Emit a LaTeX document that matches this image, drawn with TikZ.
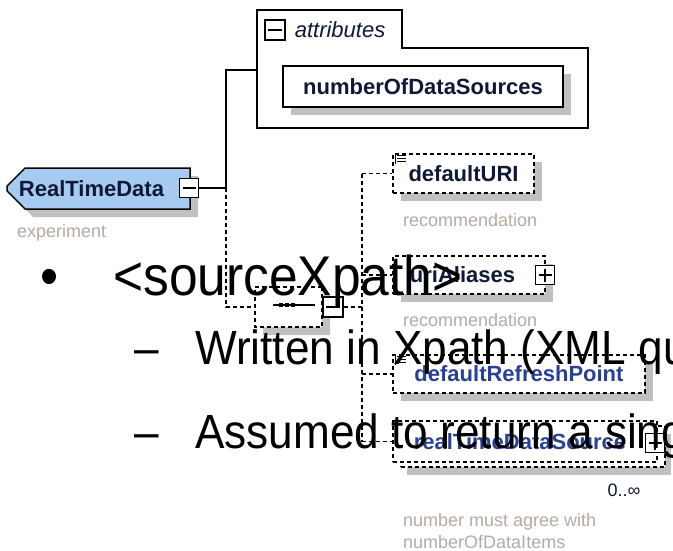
\documentclass[tikz,border=0pt]{standalone}
\usepackage{fontspec}
\setmainfont{Liberation Sans}
\newfontfamily\slidefont[FakeStretch=0.92]{Liberation Sans}
\usepackage{tikz}
\usetikzlibrary{shapes.misc,shadows,positioning}
\definecolor{boxblue}{RGB}{166,202,240}
\definecolor{shadowgray}{RGB}{192,192,192}
\definecolor{inktext}{RGB}{16,24,56}
\definecolor{notegray}{RGB}{182,170,162}
\definecolor{faintblue}{RGB}{40,64,150}
\tikzset{
  elem/.style={draw, line width=1.5pt, fill=white, inner sep=0pt,
    font=\fontsize{22}{26}\selectfont\bfseries, text=inktext},
  optelem/.style={elem, dash pattern=on 4pt off 3pt},
  shade/.style={general shadow={fill=shadowgray, shadow xshift=8pt, shadow yshift=-8pt}},
  expander/.style={draw, line width=1.2pt, fill=white, minimum size=19pt, inner sep=0pt},
  minusbox/.style={expander, path picture={
    \draw[line width=1.2pt] ([xshift=3pt]path picture bounding box.west) -- ([xshift=-3pt]path picture bounding box.east);}},
  plusbox/.style={expander, path picture={
    \draw[line width=1.2pt] ([xshift=3pt]path picture bounding box.west) -- ([xshift=-3pt]path picture bounding box.east);
    \draw[line width=1.2pt] ([yshift=-3pt]path picture bounding box.north) -- ([yshift=3pt]path picture bounding box.south);}},
  note/.style={font=\fontsize{18}{22}\selectfont, text=notegray, inner sep=0pt, anchor=west, align=left},
  link/.style={line width=1.5pt},
  optlink/.style={line width=1.5pt, dash pattern=on 4pt off 3pt},
  slide/.style={font=\slidefont\fontsize{56}{60}\selectfont, inner sep=0pt, anchor=base west},
  subslide/.style={font=\slidefont\fontsize{48}{52}\selectfont, inner sep=0pt, anchor=base west},
}
\begin{document}
\begin{tikzpicture}[x=1pt,y=-1pt]
\useasboundingbox[fill=white] (0,0) rectangle (673,551);

% element and its attributes
\node[elem, fill=boxblue, shade, chamfered rectangle, chamfered rectangle corners={north west,south west},
  chamfered rectangle xsep=10pt, chamfered rectangle ysep=10pt,
  minimum width=183pt, minimum height=41pt] (rtd) at (98.5,188.5) {RealTimeData\hspace*{14pt}};
\node[minusbox] (rtdm) at (189,188) {};
\node[note] (rtdnote) at (17,233) {experiment};

\draw[link] (257,128) -- (257,10) -- (402,10) -- (402,48) -- (588,48) -- (588,128) -- cycle;
\node[minusbox, minimum size=20pt] (attm) at (275,30) {};
\node[right=9pt of attm, inner sep=0pt, font=\fontsize{22}{26}\selectfont\itshape, text=inktext] (attl) {attributes};
\node[elem, shade, minimum width=280pt, minimum height=41pt] (nods) at (423,86.5) {numberOfDataSources};
\coordinate (attin) at (257,70);
\coordinate (rtdbus) at (226,188);
\draw[link] (rtdm.east) -- (rtdbus) |- (attin);

% sequence
\node[optelem, shade, chamfered rectangle, chamfered rectangle xsep=10pt, chamfered rectangle ysep=10pt,
  minimum width=67pt, minimum height=40pt] (comp) at (288.5,307) {};
\draw[line width=1.5pt] (273,305) -- (315,305);
\foreach \x in {281,287,293}
  \fill (\x-2,303) rectangle (\x+2,307);
\node[minusbox, minimum size=20pt] (compm) at (333,307) {};
\draw[optlink] (rtdbus) |- (comp.west);
\coordinate (seqbus) at (362,307);
\draw[optlink] (compm.east) -- (seqbus);

% children
\node[optelem, shade, minimum width=141pt, minimum height=39pt] (duri) at (463.5,173.5) {defaultURI};
\node[note] (durinote) at (403,220) {recommendation};
\node[optelem, shade, minimum width=152pt, minimum height=38pt] (ualias) at (469,275) {uriAliases\hspace*{13pt}};
\node[plusbox] (ualiasp) at (545,275) {};
\node[note] (ualiasnote) at (403,320) {recommendation};
\node[optelem, shade, text=faintblue, minimum width=252pt, minimum height=38pt] (drp) at (519,374) {defaultRefreshPoint};
\node[optelem, text=faintblue, minimum width=264pt, minimum height=41pt,
  general shadow={fill=shadowgray, shadow xshift=14pt, shadow yshift=-13pt},
  general shadow={fill=white, draw, line width=1.5pt, dash pattern=on 4pt off 3pt, shadow xshift=8pt, shadow yshift=-5pt}]
  (rtds) at (525,441.5) {realTimeDataSource\hspace*{10pt}};
\node[plusbox] (rtdsp) at (655,443) {};
\node[inner sep=0pt, font=\fontsize{18}{22}\selectfont, text=inktext] (occurs) at (624,490) {0..∞};
\node[note] (rtdsnote) at (403,531) {number must agree with\\numberOfDataItems};

\foreach \n in {duri,drp}{
  \draw[line width=1pt] ([shift={(3,2)}]\n.north west) -- ++(0,9);
  \foreach \d in {2,5,8}
    \draw[line width=1pt] ([shift={(5,\d)}]\n.north west) -- ++(9,0);
}

\draw[optlink] (seqbus |- duri.west) -- (seqbus |- rtds.west);
\foreach \n in {duri,ualias,drp,rtds}
  \draw[optlink] (seqbus |- \n.west) -- (\n.west);

% slide text
\node[slide] (bul) at (40,295) {•};
\node[slide] (lvla) at (113,295) {<sourceXpath>};
\node[subslide] (dsha) at (134,364) {–};
\node[subslide] (lvlb) at (195,364) {Written in Xpath (XML qu};
\node[subslide] (dshb) at (134,448) {–};
\node[subslide] (lvlc) at (195,448) {Assumed to return a sing};
\end{tikzpicture}
\end{document}
